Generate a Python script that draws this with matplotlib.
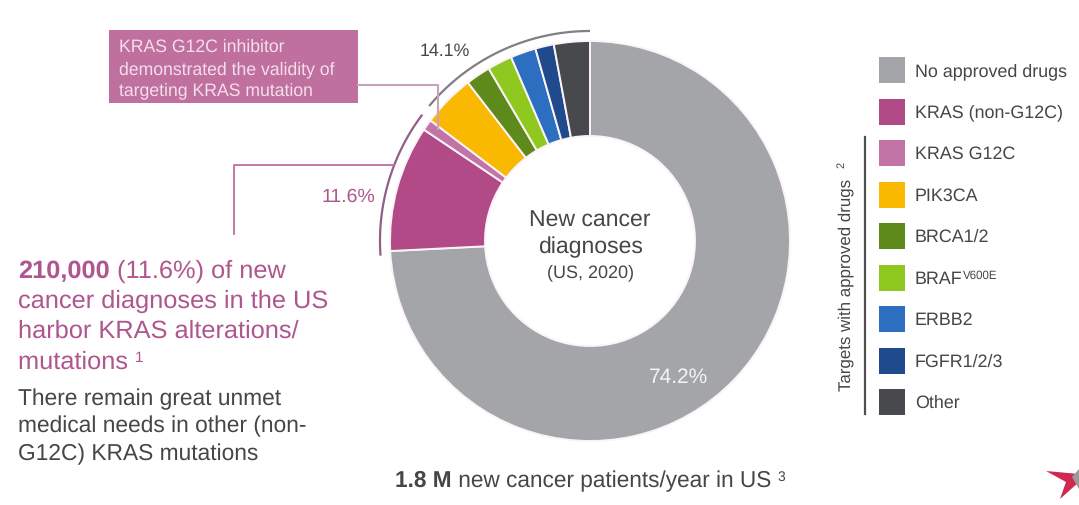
import numpy as np
import matplotlib
matplotlib.use('Agg')
import matplotlib.pyplot as plt
from matplotlib.patches import Rectangle, Polygon

plt.rcParams['font.family'] = ['Liberation Sans', 'DejaVu Sans']
plt.rcParams['text.hinting'] = 'none'

W, H = 1079, 506

labels = ['No approved drugs', 'KRAS (non-G12C)', 'KRAS G12C', 'PIK3CA', 'BRCA1/2',
          'BRAF', 'ERBB2', 'FGFR1/2/3', 'Other']
values = [74.2, 10.2, 0.9, 4.25, 2.0, 2.0, 2.05, 1.5, 2.9]
colors = ['#A3A5A8', '#B14A86', '#C274A6', '#F9B900', '#5D8A1B',
          '#8FC91F', '#2C6EBF', '#1F4B8C', '#48494D']

TEXT = '#464646'
PINK = '#B0568E'

fig = plt.figure(figsize=(W / 100, H / 100), dpi=100, facecolor='white')

# donut
cx, cy, R = 590, 242, 200
pad = 1.05
pie_ax = fig.add_axes([(cx - R * pad) / W, 1 - (cy + R * pad) / H, 2 * R * pad / W, 2 * R * pad / H])
pie_ax.pie(values, colors=colors, startangle=90, counterclock=False, radius=1,
           wedgeprops=dict(width=95 / R, edgecolor='#FBF3F8', linewidth=1.4))
pie_ax.set_xlim(-pad, pad)
pie_ax.set_ylim(-pad, pad)

# overlay in pixel coords, y going down like the picture
ov = fig.add_axes([0, 0, 1, 1], zorder=5)
ov.set_xlim(0, W)
ov.set_ylim(H, 0)
ov.axis('off')


def arc(a0, a1, r, color):
    # angles in degrees, counterclockwise from the top
    a = np.radians(np.linspace(a0, a1, 80))
    ov.plot(cx - r * np.sin(a), cy - r * np.cos(a), color=color, lw=1.6, solid_capstyle='butt')


arc(0, 50, 210, '#7F7F85')
arc(53, 94, 210, '#8F5F88')


def chain(x, y, parts, **kw):
    # text runs on one baseline: (string, size, weight, dy)
    rend = fig.canvas.get_renderer()
    for s, size, weight, dy in parts:
        t = ov.text(x, y + dy, s, fontsize=size, fontweight=weight, va='baseline', ha='left', **kw)
        x = t.get_window_extent(rend).x1


# leaders
ov.plot([358, 438, 438], [85.5, 85.5, 130], color='#C9A3BD', lw=1.5)
ov.plot([234, 234, 394], [235, 166, 166], color='#BD6FA3', lw=1.3)

# callout box
ov.add_patch(Rectangle((109, 31), 249, 73, color='#C0709F', lw=0))
for s, y in zip(['KRAS G12C inhibitor', 'demonstrated the validity of', 'targeting KRAS mutation'], [52, 74, 95]):
    ov.text(119, y, s, color='#F5DEEB', fontsize=12.7, va='baseline')

# percent labels
ov.text(444.5, 56, '14.1%', color=TEXT, fontsize=12.8, ha='center', va='baseline')
ov.text(348.5, 202, '11.6%', color=PINK, fontsize=14, ha='center', va='baseline')
ov.text(678.5, 383, '74.2%', color='#F4F4F4', fontsize=15, ha='center', va='baseline')

# centre text
ov.text(590, 227, 'New cancer', color=TEXT, fontsize=16.6, ha='center', va='baseline')
ov.text(590, 253, 'diagnoses', color=TEXT, fontsize=16.6, ha='center', va='baseline')
ov.text(591, 277, '(US, 2020)', color=TEXT, fontsize=13, ha='center', va='baseline')

# left text
chain(18, 278, [('210,000', 18.3, 'bold', 0), (' (11.6%) of new', 18.3, 'normal', 0)], color=PINK)
ov.text(18, 308, 'cancer diagnoses in the US', color=PINK, fontsize=18.3, va='baseline')
ov.text(18, 338, 'harbor KRAS alterations/', color=PINK, fontsize=18.3, va='baseline')
chain(18, 369, [('mutations ', 18.3, 'normal', 0), ('1', 11, 'normal', -7)], color=PINK)
ov.text(18, 405, 'There remain great unmet', color=TEXT, fontsize=16.4, va='baseline')
ov.text(18, 432, 'medical needs in other (non-', color=TEXT, fontsize=16.4, va='baseline')
ov.text(18, 460, 'G12C) KRAS mutations', color=TEXT, fontsize=16.4, va='baseline')

# bottom line
chain(395, 487, [('1.8 M', 16.3, 'bold', 0), (' new cancer patients/year in US ', 16.3, 'normal', 0),
                 ('3', 10, 'normal', -6)], color=TEXT)

# legend
for i, (name, c) in enumerate(zip(labels, colors)):
    y = 58 + i * 41.5
    ov.add_patch(Rectangle((879, y), 26, 26, color=c, lw=0))
    if name == 'BRAF':
        chain(915, y + 18, [(name, 12.9, 'normal', 0), ('V600E', 8.3, 'normal', -5)], color=TEXT)
    else:
        ov.text(915, y + 18, name, color=TEXT, fontsize=12.9, va='baseline')

ov.plot([865, 865], [138, 415], color='#505050', lw=1.6)
ov.text(846, 391, 'Targets with approved drugs', color=TEXT, fontsize=12.2, rotation=90,
        ha='center', va='bottom')
ov.text(842, 165, '2', color=TEXT, fontsize=8, rotation=90, ha='center', va='center')

# logo corner
ov.add_patch(Polygon([(1046, 472), (1079, 475), (1079, 483), (1060, 500), (1066, 483)], color='#D0284F', lw=0))
ov.add_patch(Polygon([(1072, 478), (1079, 470), (1079, 490)], color='#9A9A9A', lw=0))

fig.savefig('out.png', dpi=100)
